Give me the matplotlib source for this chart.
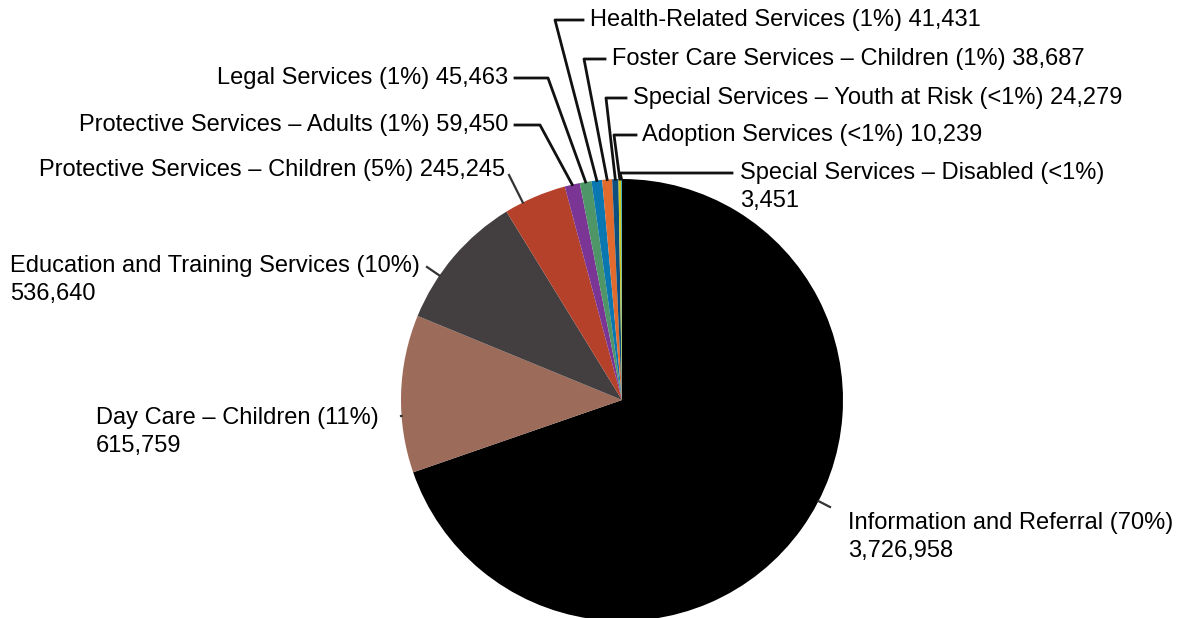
import numpy as np
import matplotlib
matplotlib.use("Agg")
import matplotlib.pyplot as plt

plt.rcParams['font.family'] = ['Liberation Sans', 'DejaVu Sans']

categories = [
    "Information and Referral",
    "Day Care – Children",
    "Education and Training Services",
    "Protective Services – Children",
    "Protective Services – Adults",
    "Legal Services",
    "Health-Related Services",
    "Foster Care Services – Children",
    "Special Services – Youth at Risk",
    "Adoption Services",
    "Special Services – Disabled",
]
values = [3726958, 615759, 536640, 245245, 59450, 45463, 41431, 38687, 24279, 10239, 3451]
pct_labels = ["70%", "11%", "10%", "5%", "1%", "1%", "1%", "1%", "<1%", "<1%", "<1%"]
colors = ["#000000", "#9c6b5a", "#433f40", "#b5412a", "#7a3595", "#4e9567",
          "#0a77b0", "#e16b2c", "#0d4f7f", "#cfc51b", "#27a3b3"]
# value on a new line for the big slices
two_line = [True, True, True, False, False, False, False, False, False, False, True]

# layout in pixels (x from left, y from top)
W, H = 1181, 618
cx, cy, R = 622, 400, 221
# text anchor x, y of first line, horizontal alignment
text_pos = [(848, 523, "left"), (96, 418, "left"), (10, 266, "left"),
            (505, 170, "right"), (508, 125, "right"), (508, 78, "right"),
            (590, 20, "left"), (612, 59, "left"), (633, 98, "left"),
            (642, 135, "left"), (740, 173, "left")]
# leader: ("tick", end point) or ("elbow", elbow x, line end x)
leaders = [("tick", 830, 507), ("tick", 401, 416), ("tick", 427, 267),
           ("tick", 509, 175), ("elbow", 540, 515), ("elbow", 548, 515),
           ("elbow", 555, 583), ("elbow", 584, 605), ("elbow", 606, 626),
           ("elbow", 614, 636), ("elbow", 620, 732)]
FS = 17


def fy(y):
    return H - y


fig = plt.figure(figsize=(W / 100, H / 100), dpi=100)
ax = fig.add_axes([0, 0, 1, 1])
wedges, _ = ax.pie(values, colors=colors, startangle=90, counterclock=False,
                   center=(cx, fy(cy)), radius=R,
                   wedgeprops=dict(linewidth=0))
ax.set_xlim(0, W)
ax.set_ylim(0, H)
ax.set_aspect("equal")
ax.axis("off")

for i, w in enumerate(wedges):
    name = categories[i]
    sep = "\n" if two_line[i] else " "
    label = f"{name} ({pct_labels[i]}){sep}{values[i]:,}"
    tx, ty, ha = text_pos[i]
    if two_line[i]:
        ax.text(tx, fy(ty + 14), label, ha=ha, va="center", fontsize=FS,
                linespacing=1.32, multialignment="left")
    else:
        ax.text(tx, fy(ty), label, ha=ha, va="center", fontsize=FS)

    kind = leaders[i][0]
    if kind == "tick":
        ex, ey = leaders[i][1], fy(leaders[i][2])
        ang = np.arctan2(ey - fy(cy), ex - cx)
        sx, sy = cx + R * np.cos(ang), fy(cy) + R * np.sin(ang)
        ax.plot([sx, ex], [sy, ey], color="#333333", lw=1.6)
    else:
        mid = np.deg2rad((w.theta1 + w.theta2) / 2)
        sx, sy = cx + R * np.cos(mid), fy(cy) + R * np.sin(mid)
        elx, lend = leaders[i][1], leaders[i][2]
        ax.plot([sx, elx, lend], [sy, fy(ty), fy(ty)], color="#111111", lw=2)

fig.savefig("out.png", dpi=100)
